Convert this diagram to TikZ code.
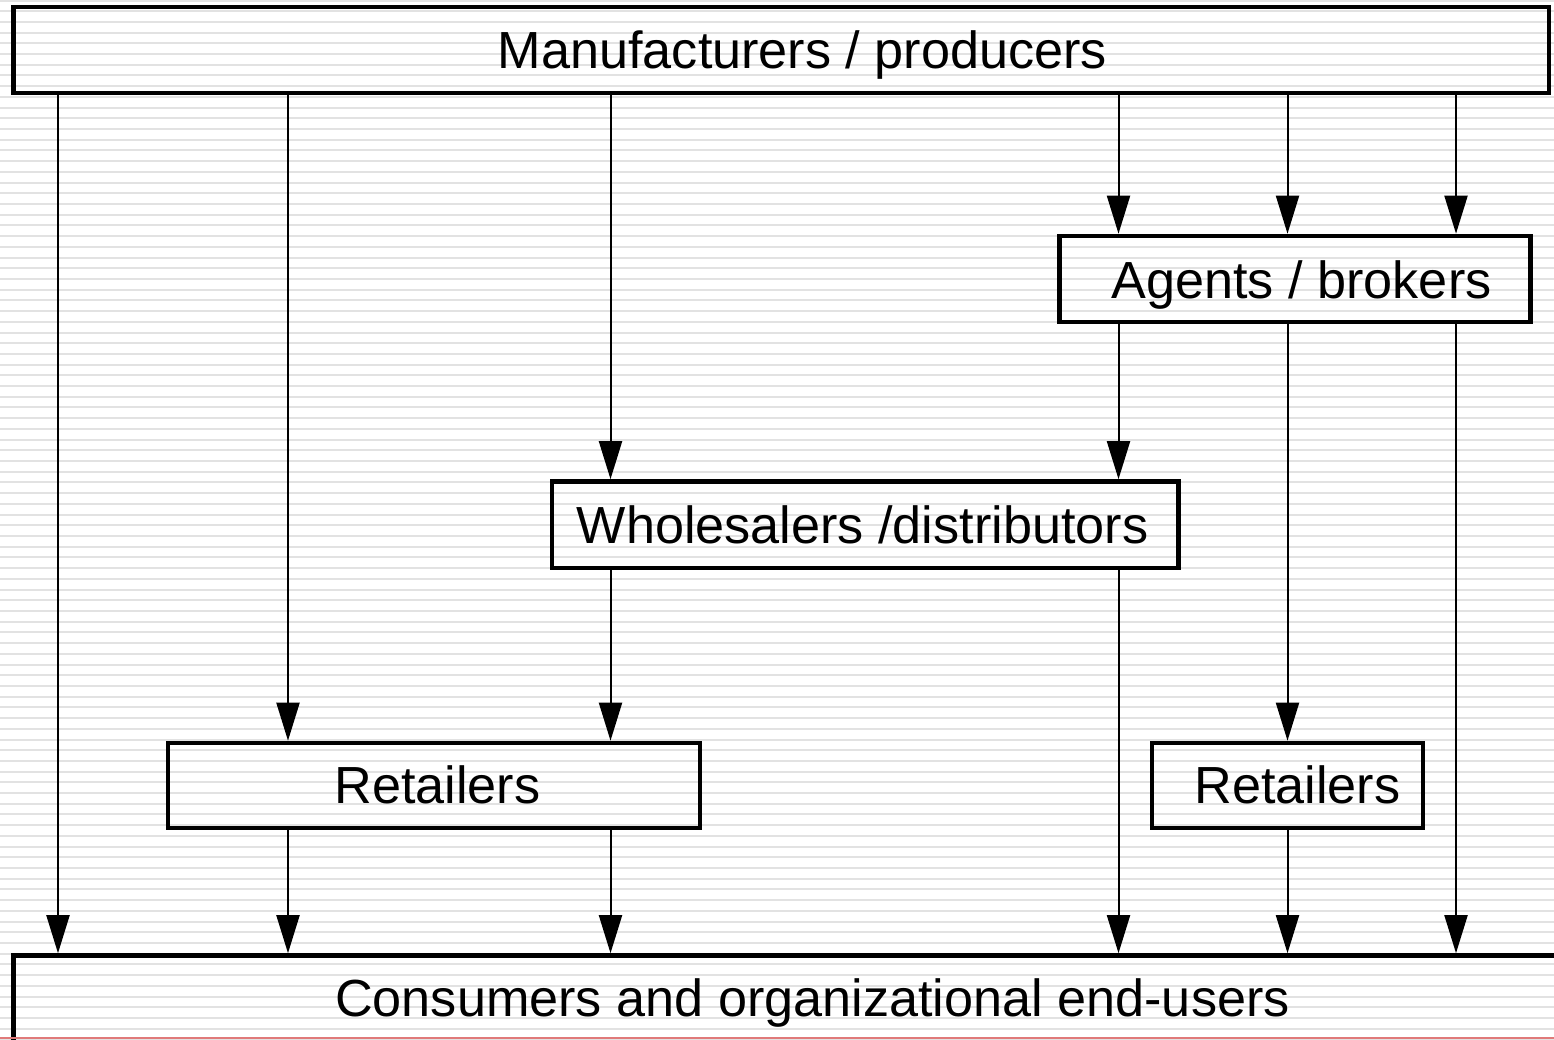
\documentclass[tikz,border=0pt]{standalone}
\usepackage{fontspec}
\setmainfont{Liberation Sans}
\usetikzlibrary{arrows.meta}
\definecolor{stripegray}{RGB}{226,226,226}
\definecolor{edgered}{RGB}{224,122,122}
\begin{document}
\begin{tikzpicture}[x=1pt,y=-1pt,
  box/.style={draw, line width=4.6pt, rectangle, inner sep=0pt},
  lbl/.style={anchor=base, inner sep=0pt, font=\fontsize{52.2}{60}\selectfont},
  flow/.style={line width=2pt, -{Triangle[length=38pt,width=23pt]}},
  stripe/.style={line width=2pt, draw=stripegray}]

\path[use as bounding box, clip] (0,0) rectangle (1554,1039);

% ruled background
\foreach \k in {0,...,97}
  \draw[stripe] (0,{10.71*\k+0.5}) -- (1554,{10.71*\k+0.5});

% channel members
\node[box, minimum width=1535.5pt, minimum height=86pt] (mfr) at (781.25,50) {};
\node[box, minimum width=471pt, minimum height=86pt] (agents) at (1295,279) {};
\node[box, minimum width=626.5pt, minimum height=86.5pt] (whole) at (865.25,524.75) {};
\node[box, minimum width=532pt, minimum height=85pt] (retL) at (434,785.5) {};
\node[box, minimum width=271pt, minimum height=85pt] (retR) at (1287.5,785.5) {};
\node[box, minimum width=1606.5pt, minimum height=144.5pt] (cons) at (816.75,1027.75) {};

% captions
\node[lbl] (mfr-t) at (802.5,68.5) {Manufacturers / producers};
\node[lbl] (agents-t) at (1301.5,298.5) {Agents / brokers};
\node[lbl] (whole-t) at (862.5,543.5) {Wholesalers /distributors};
\node[lbl] (retL-t) at (437.5,803.5) {Retailers};
\node[lbl] (retR-t) at (1297.5,803.5) {Retailers};
\node[lbl] (cons-t) at (812.5,1016.5) {Consumers and organizational end-users};

% channel columns
\coordinate (c1) at (58,0);
\coordinate (c2) at (288,0);
\coordinate (c3) at (610.5,0);
\coordinate (c4) at (1118.5,0);
\coordinate (c5) at (1287.5,0);
\coordinate (c6) at (1456,0);

% flows
\draw[flow] (mfr.south -| c1) -- (cons.north -| c1);
\draw[flow] (mfr.south -| c2) -- (retL.north -| c2);
\draw[flow] (mfr.south -| c3) -- (whole.north -| c3);
\draw[flow] (mfr.south -| c4) -- (agents.north -| c4);
\draw[flow] (mfr.south -| c5) -- (agents.north -| c5);
\draw[flow] (mfr.south -| c6) -- (agents.north -| c6);
\draw[flow] (agents.south -| c4) -- (whole.north -| c4);
\draw[flow] (agents.south -| c5) -- (retR.north -| c5);
\draw[flow] (agents.south -| c6) -- (cons.north -| c6);
\draw[flow] (whole.south -| c3) -- (retL.north -| c3);
\draw[flow] (whole.south -| c4) -- (cons.north -| c4);
\draw[flow] (retL.south -| c2) -- (cons.north -| c2);
\draw[flow] (retL.south -| c3) -- (cons.north -| c3);
\draw[flow] (retR.south -| c5) -- (cons.north -| c5);

% lower page edge
\draw[line width=2.5pt, draw=edgered] (0,1038) -- (1554,1038);
\end{tikzpicture}
\end{document}
